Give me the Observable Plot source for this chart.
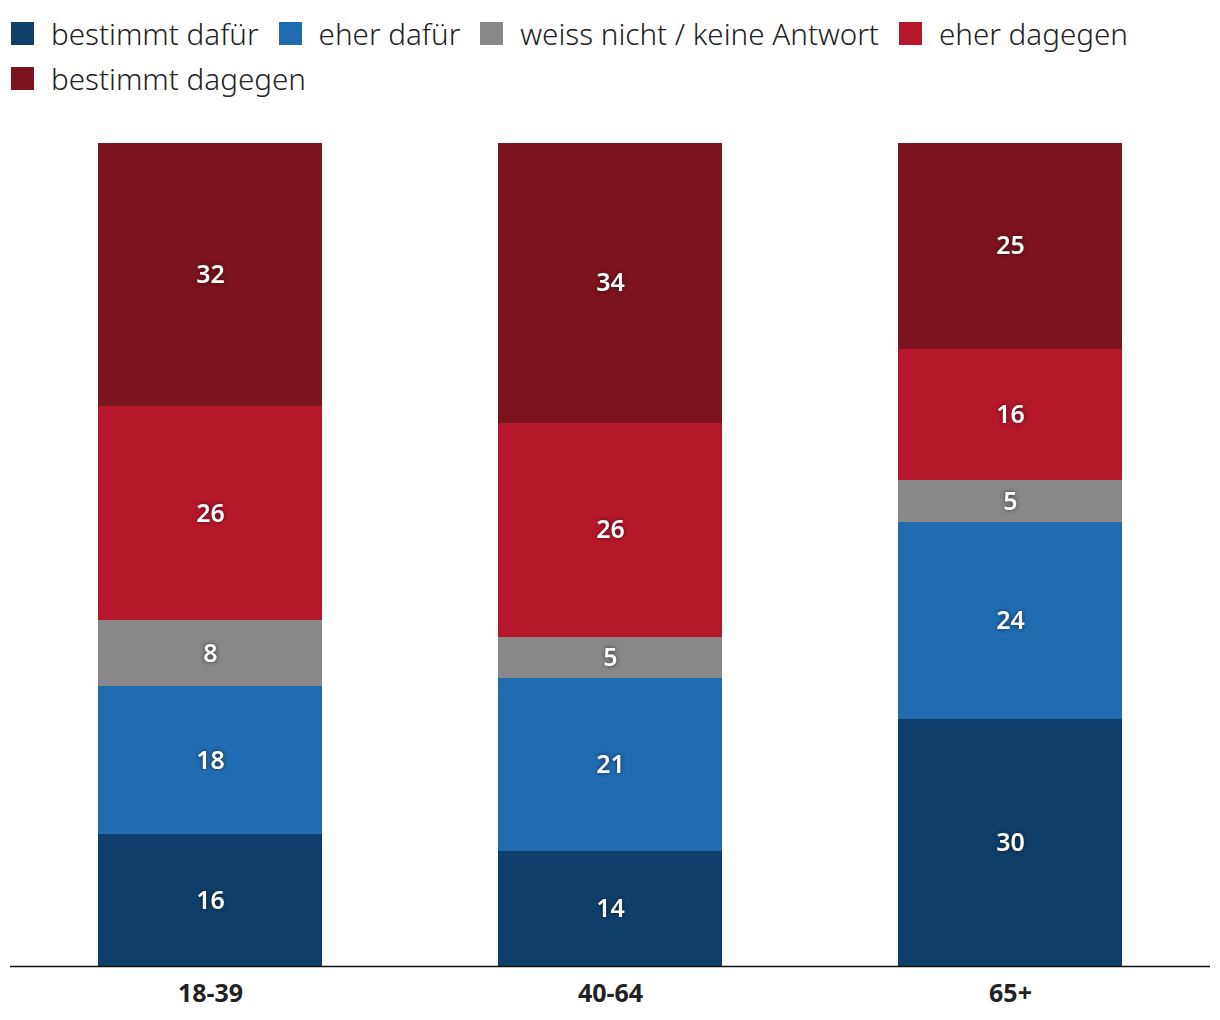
<!DOCTYPE html>
<html>
<head>
<meta charset="utf-8">
<script src="https://cdn.jsdelivr.net/npm/d3@7"></script>
<script src="https://cdn.jsdelivr.net/npm/@observablehq/plot@0.6"></script>
<style>
  body { margin: 0; background: #fff; font-family: "Noto Sans", sans-serif; }
  #legend { height: 110px; box-sizing: border-box; padding: 11px 0 0 11px; display: flex; flex-wrap: wrap; align-content: flex-start; width: 1200px; }
  .item { display: flex; align-items: center; height: 45px; margin-right: 20px; font-size: 29.6px; font-weight: 300; color: #222; font-family: "Noto Sans", sans-serif; line-height: 45px; }
  .sw { width: 23px; height: 23px; margin-right: 17px; }
</style>
</head>
<body>
<div id="legend"></div>
<div id="chart"></div>
<script>
const groups = ["18-39", "40-64", "65+"];
const answers = ["bestimmt dafür", "eher dafür", "weiss nicht / keine Antwort", "eher dagegen", "bestimmt dagegen"];
const colors = ["#0e3f6b", "#216bb1", "#888888", "#b5182b", "#7b141f"];
const bestimmtDafuer = [16, 14, 30];
const eherDafuer = [18, 21, 24];
const weissNicht = [8, 5, 5];
const eherDagegen = [26, 26, 16];
const bestimmtDagegen = [32, 34, 25];

const series = [bestimmtDafuer, eherDafuer, weissNicht, eherDagegen, bestimmtDagegen];
const data = [];
groups.forEach((g, gi) => {
  answers.forEach((a, ai) => {
    data.push({group: g, answer: a, value: series[ai][gi]});
  });
});

const legend = document.getElementById("legend");
answers.forEach((a, i) => {
  const it = document.createElement("div");
  it.className = "item";
  it.innerHTML = `<div class="sw" style="background:${colors[i]}"></div><span>${a}</span>`;
  legend.appendChild(it);
});

const stackOpts = {x: "group", y: "value", z: "answer", order: answers};
const chart = Plot.plot({
  width: 1220,
  height: 910,
  marginTop: 33,
  marginBottom: 54,
  marginLeft: 10,
  marginRight: 10,
  style: {fontFamily: "Noto Sans, sans-serif", background: "#fff"},
  x: {domain: groups, paddingInner: 0.44, paddingOuter: 0.22, label: null, tickSize: 0, tickPadding: 18},
  y: {domain: [0, 100], axis: null},
  color: {domain: answers, range: colors},
  marks: [
    Plot.barY(data, Plot.stackY({...stackOpts, fill: "answer", shapeRendering: "crispEdges"})),
    Plot.text(data, Plot.stackY({...stackOpts, text: d => d.value, fill: "white", fontSize: 25, fontWeight: 600, className: "vlabel"})),
    Plot.ruleY([0], {stroke: "#111", strokeWidth: 1.6})
  ]
});
d3.select(chart).selectAll("g[aria-label='x-axis tick label'] text, g[aria-label='x-axis tick label']")
  .style("font-size", "25px").style("font-weight", "700").style("fill", "#222");
d3.select(chart).selectAll(".vlabel text").style("filter", "drop-shadow(0px 0px 2px rgba(0,0,0,0.6))");
document.getElementById("chart").appendChild(chart);
</script>
</body>
</html>
